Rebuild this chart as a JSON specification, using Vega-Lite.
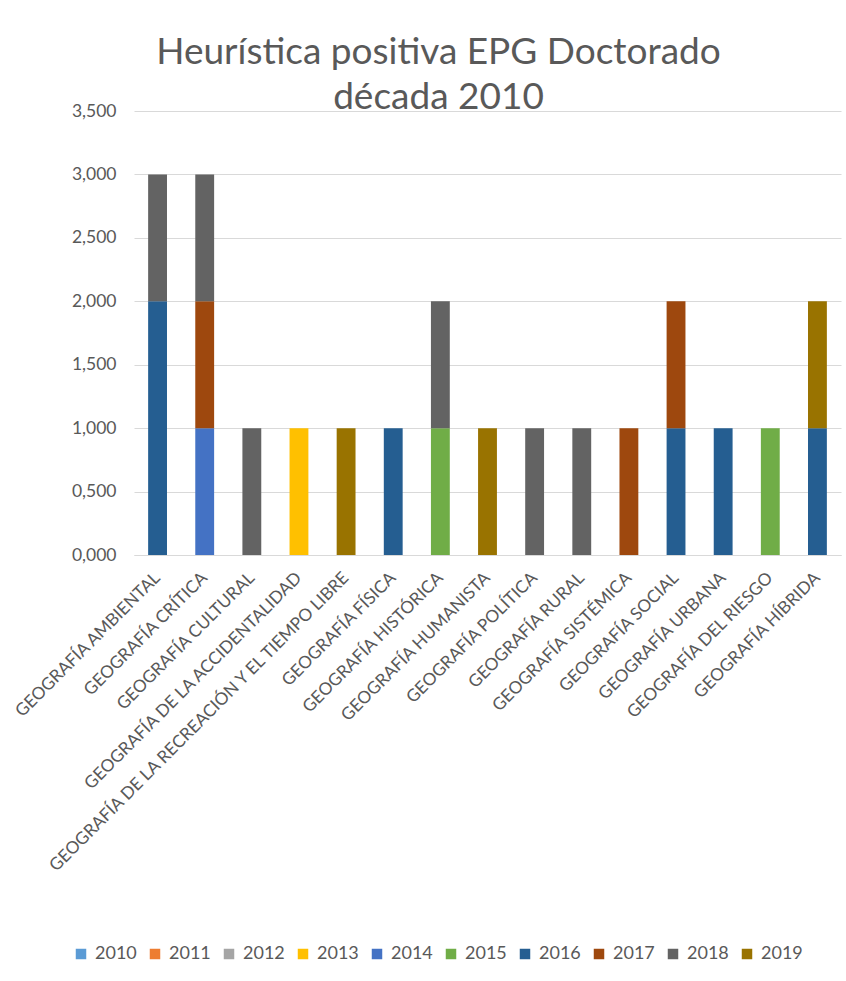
{
  "$schema": "https://vega.github.io/schema/vega-lite/v6.json",
  "autosize": {"type": "none"},
  "padding": {"left": 134, "top": 111, "right": 5, "bottom": 426},
  "width": 707,
  "height": 444,
  "background": "white",
  "title": {
    "text": ["Heurística positiva EPG Doctorado", "década 2010"],
    "font": "Lato",
    "fontSize": 37,
    "fontWeight": "normal",
    "color": "#595959",
    "lineHeight": 45,
    "anchor": "middle",
    "dx": -49,
    "offset": -15
  },
  "data": {
    "values": [
      {"area": "GEOGRAFÍA AMBIENTAL", "year": "2016", "n": 2},
      {"area": "GEOGRAFÍA AMBIENTAL", "year": "2018", "n": 1},
      {"area": "GEOGRAFÍA CRÍTICA", "year": "2014", "n": 1},
      {"area": "GEOGRAFÍA CRÍTICA", "year": "2017", "n": 1},
      {"area": "GEOGRAFÍA CRÍTICA", "year": "2018", "n": 1},
      {"area": "GEOGRAFÍA CULTURAL", "year": "2018", "n": 1},
      {"area": "GEOGRAFÍA DE LA ACCIDENTALIDAD", "year": "2013", "n": 1},
      {"area": "GEOGRAFÍA DE LA RECREACIÓN Y EL TIEMPO LIBRE", "year": "2019", "n": 1},
      {"area": "GEOGRAFÍA FÍSICA", "year": "2016", "n": 1},
      {"area": "GEOGRAFÍA HISTÓRICA", "year": "2015", "n": 1},
      {"area": "GEOGRAFÍA HISTÓRICA", "year": "2018", "n": 1},
      {"area": "GEOGRAFÍA HUMANISTA", "year": "2019", "n": 1},
      {"area": "GEOGRAFÍA POLÍTICA", "year": "2018", "n": 1},
      {"area": "GEOGRAFÍA RURAL", "year": "2018", "n": 1},
      {"area": "GEOGRAFÍA SISTÉMICA", "year": "2017", "n": 1},
      {"area": "GEOGRAFÍA SOCIAL", "year": "2016", "n": 1},
      {"area": "GEOGRAFÍA SOCIAL", "year": "2017", "n": 1},
      {"area": "GEOGRAFÍA URBANA", "year": "2016", "n": 1},
      {"area": "GEOGRAFÍA DEL RIESGO", "year": "2015", "n": 1},
      {"area": "GEOGRAFÍA HÍBRIDA", "year": "2016", "n": 1},
      {"area": "GEOGRAFÍA HÍBRIDA", "year": "2019", "n": 1}
    ]
  },
  "mark": {"type": "bar"},
  "encoding": {
    "x": {
      "field": "area",
      "type": "nominal",
      "sort": null,
      "scale": {"paddingInner": 0.6, "paddingOuter": 0.3},
      "axis": {
        "title": null,
        "labelAngle": -45,
        "labelAlign": "right",
        "labelBaseline": "middle",
        "labelFont": "Lato",
        "labelFontSize": 17.2,
        "labelColor": "#595959",
        "labelPadding": 20,
        "labelLimit": 700,
        "ticks": false,
        "domainColor": "#d9d9d9",
        "domainWidth": 1
      }
    },
    "y": {
      "field": "n",
      "type": "quantitative",
      "stack": "zero",
      "scale": {"domain": [0, 3.5], "nice": false},
      "axis": {
        "title": null,
        "values": [0, 0.5, 1, 1.5, 2, 2.5, 3, 3.5],
        "labelExpr": "replace(format(datum.value, '.3f'), '.', ',')",
        "labelFont": "Lato",
        "labelFontSize": 17.5,
        "labelColor": "#595959",
        "labelPadding": 18,
        "ticks": false,
        "domain": false,
        "gridColor": "#d9d9d9",
        "gridWidth": 1
      }
    },
    "color": {
      "field": "year",
      "type": "nominal",
      "scale": {
        "domain": ["2010", "2011", "2012", "2013", "2014", "2015", "2016", "2017", "2018", "2019"],
        "range": ["#5B9BD5", "#ED7D31", "#A5A5A5", "#FFC000", "#4472C4", "#70AD47", "#255E91", "#9E480E", "#636363", "#997300"]
      },
      "legend": {
        "title": null,
        "orient": "none",
        "direction": "horizontal",
        "legendX": -62,
        "legendY": 834,
        "symbolType": "square",
        "symbolSize": 110,
        "symbolStrokeWidth": 0,
        "labelFont": "Lato",
        "labelFontSize": 18,
        "labelColor": "#595959",
        "labelOffset": 5,
        "columnPadding": 9
      }
    },
    "order": {"field": "year", "sort": "ascending"}
  },
  "config": {"view": {"stroke": null}}
}
